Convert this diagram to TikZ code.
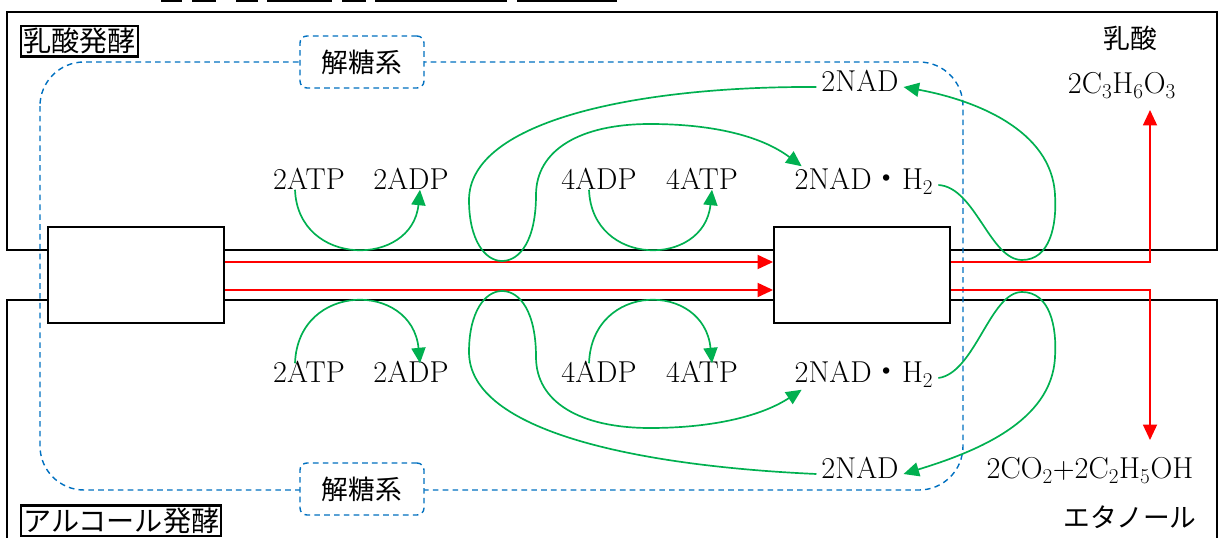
\documentclass[tikz,border=0pt]{standalone}
\usepackage{fontspec}
\newfontfamily\jp{Noto Sans CJK JP}
\usetikzlibrary{calc, arrows.meta}
\definecolor{nadgreen}{HTML}{00B050}
\definecolor{gbblue}{HTML}{0070C0}

\tikzset{
	frame/.style={line width=1.6pt},
	stage/.style={draw, line width=1.3pt, fill=white, minimum width=4.4cm, minimum height=2.4cm},
	tag/.style={draw, line width=1.6pt, inner sep=1.5pt, font=\jp\fontsize{20}{24}\selectfont},
	sys/.style={draw=gbblue, line width=1pt, dash pattern=on 4pt off 3pt},
	sysbox/.style={sys, fill=white, rounded corners=5pt, minimum width=3.1cm, minimum height=1.3cm, font=\jp\fontsize{19}{22}\selectfont},
	chem/.style={text height=0.68em, text depth=0pt},
	flow/.style={red, line width=1.2pt, -{Triangle[length=11pt,width=10pt]}},
	nad/.style={nadgreen, line width=1.2pt, -{Triangle[length=11pt,width=10pt]}},
}

\begin{document}
\begin{tikzpicture}[x=0.025cm, y=-0.025cm, font=\fontsize{21.5}{25}\selectfont]
		
		\useasboundingbox (0,0) rectangle (1221,538);
		
		\foreach \a/\b in {161/182, 192/216, 236/258, 267/332, 342/366, 375/507, 517/617}
			\draw[frame] (\a,0.5) -- (\b,0.5);
		
		\draw[frame] (7,12) rectangle (1217,250);
		\draw[frame] (7,560) -- (7,300) -- (1217,300) -- (1217,560);
		
		\draw[sys, rounded corners=1.1cm] (40,62) rectangle (963,490);
		
		\node[sysbox] (gly1) at (362,62) {解糖系};
		\node[sysbox] (gly2) at (362,489) {解糖系};
		
		\node[tag, anchor=north west] (lacf) at (20,25) {乳酸発酵};
		\node[tag, anchor=south west] (alcf) at (20,537) {アルコール発酵};
		
		\node[stage] (glc) at (136,275) {};
		\node[stage] (pyr) at (862,275) {};
		
		\node[chem] (atp1) at (309,185) {2ATP};
		\node[chem] (adp1) at (411,185) {2ADP};
		\node[chem] (adp2) at (599,185) {4ADP};
		\node[chem] (atp2) at (702,185) {4ATP};
		\node[chem] (nadh1) at (864,185) {2NAD{\jp ・}H\textsubscript{2}};
		\node[chem] (nad1) at (860,87) {2NAD};
		
		\node[chem] (atp3) at (309,378) {2ATP};
		\node[chem] (adp3) at (411,378) {2ADP};
		\node[chem] (adp4) at (599,378) {4ADP};
		\node[chem] (atp4) at (702,378) {4ATP};
		\node[chem] (nadh2) at (864,378) {2NAD{\jp ・}H\textsubscript{2}};
		\node[chem] (nad2) at (860,474) {2NAD};
		
		\node (lacn) at (1130,38) {\jp\fontsize{19}{22}\selectfont 乳酸};
		\node[chem] (lac) at (1122,89) {2C\textsubscript{3}H\textsubscript{6}O\textsubscript{3}};
		\node[chem] (eth) at (1090,474) {2CO\textsubscript{2}+2C\textsubscript{2}H\textsubscript{5}OH};
		\node (ethn) at (1130,517) {\jp\fontsize{19}{22}\selectfont エタノール};
		
		\coordinate (lacin) at (1150,110);
		\coordinate (ethin) at (1150,440);
		
		\draw[flow] ([yshift=0.325cm]glc.east) -- ([yshift=0.325cm]pyr.west);
		\draw[flow] ([yshift=-0.375cm]glc.east) -- ([yshift=-0.375cm]pyr.west);
		\draw[flow] ([yshift=0.325cm]pyr.east) -| (lacin);
		\draw[flow] ([yshift=-0.375cm]pyr.east) -| (ethin);
		
		\draw[nad] ($(atp1.south)+(-14,-5)$) .. controls +(3,78) and +(-8,78) .. ($(adp1.south)+(9,-5)$);
		\draw[nad] ($(adp2.south)+(-10,-5)$) .. controls +(3,78) and +(-8,78) .. ($(atp2.south)+(10,-5)$);
		\draw[nad] ($(atp3.north)+(-14,-5)$) .. controls +(3,-82) and +(-8,-82) .. ($(adp3.north)+(9,-5)$);
		\draw[nad] ($(adp4.north)+(-10,-5)$) .. controls +(3,-82) and +(-8,-82) .. ($(atp4.north)+(10,-5)$);
		
		\draw[nad] (nad1.west) .. controls (640,86) and (469,120) .. (469,200)
			.. controls (469,240) and (485,261) .. (502,261)
			.. controls (520,261) and (536,240) .. (536,195)
			.. controls (536,150) and (580,124) .. (650,124)
			.. controls (710,124) and (760,135) .. ($(nadh1.north west)+(12,-9)$);
		\draw[nad] (nadh1.east) .. controls (975,187) and (990,260) .. (1022,260)
			.. controls (1050,260) and (1057,225) .. (1055,195)
			.. controls (1052,130) and (975,100) .. (nad1.east);
		
		\draw[nad] (nad2.west) .. controls (640,466) and (469,432) .. (469,352)
			.. controls (469,312) and (485,291) .. (502,291)
			.. controls (520,291) and (536,312) .. (536,357)
			.. controls (536,402) and (580,428) .. (650,428)
			.. controls (710,428) and (760,417) .. ($(nadh2.south west)+(12,2)$);
		\draw[nad] (nadh2.east) .. controls (975,373) and (990,292) .. (1022,292)
			.. controls (1050,292) and (1057,327) .. (1055,357)
			.. controls (1052,422) and (975,452) .. (nad2.east);
		
		\end{tikzpicture}
\end{document}
